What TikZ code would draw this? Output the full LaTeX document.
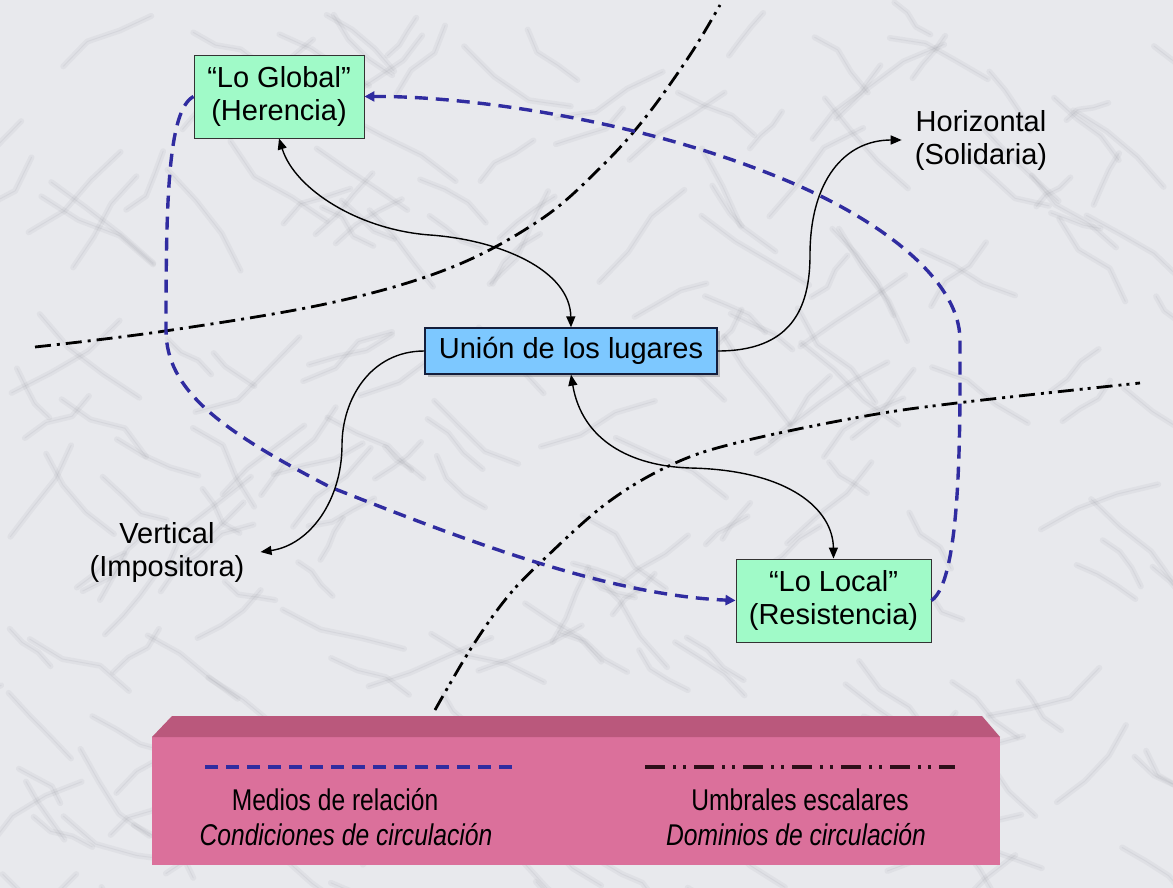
\documentclass[tikz,border=0pt]{standalone}
\usepackage{fontspec}
\setmainfont{Liberation Sans}
\newfontfamily\legendfont[FakeStretch=0.82]{Liberation Sans}
\usetikzlibrary{arrows.meta,shadows}
\definecolor{marble}{RGB}{232,233,237}
\definecolor{vein}{RGB}{140,142,150}
\definecolor{mint}{RGB}{160,250,200}
\definecolor{skyb}{RGB}{125,200,255}
\definecolor{dashblue}{RGB}{48,44,160}
\definecolor{pinkfront}{RGB}{219,112,155}
\definecolor{pinktop}{RGB}{186,88,124}
\definecolor{legdark}{RGB}{45,15,25}
\definecolor{navyedge}{RGB}{20,30,60}
\begin{document}
\begin{tikzpicture}[x=1pt,y=-1pt,
  every node/.style={font=\fontsize{29}{33}\selectfont, align=center},
  greenbox/.style={draw=black!80, line width=0.9pt, fill=mint, inner sep=0pt},
  bluebox/.style={draw=navyedge, line width=1.3pt, fill=skyb, inner sep=0pt,
    minimum width=292pt, minimum height=46pt,
    drop shadow={shadow xshift=3pt, shadow yshift=-3pt, opacity=0.45}},
  labeltext/.style={inner sep=2pt},
  link/.style={line width=1.4pt, black},
  onetip/.style={-{Triangle[length=11pt,width=9pt]}},
  bothtips/.style={{Triangle[length=11pt,width=9pt]}-{Triangle[length=11pt,width=9pt]}},
  medio/.style={dashblue, line width=3.4pt, dash pattern=on 13pt off 8pt,
    -{Triangle[length=10pt,width=10pt]}},
  umbralA/.style={black, line width=2.8pt, dash pattern=on 16pt off 6pt on 3pt off 6pt},
  umbralB/.style={black, line width=2.8pt, dash pattern=on 16pt off 6pt on 3pt off 5pt on 3pt off 6pt},
  legendtext/.style={font=\legendfont\fontsize{30}{33}\selectfont, inner sep=0pt},
  softvein/.style={vein, opacity=0.09, line cap=round, line join=round, line width=6pt},
  thinvein/.style={vein, opacity=0.11, line cap=round, line join=round, line width=1pt}
]
\useasboundingbox (0,0) rectangle (1173,888);
\fill[marble] (0,0) rectangle (1173,888);

% marble texture
\pgfmathsetseed{5}
\foreach \k in {1,...,230}{
  \pgfmathsetmacro{\xa}{rnd*1173}
  \pgfmathsetmacro{\ya}{rnd*888}
  \pgfmathsetmacro{\base}{ifthenelse(rnd<0.6, 25+rnd*25, 125+rnd*30)}
  \pgfmathsetmacro{\aa}{\base+rnd*40-20}
  \pgfmathsetmacro{\ab}{\base+rnd*40-20}
  \pgfmathsetmacro{\ac}{\base+rnd*40-20}
  \pgfmathsetmacro{\ln}{15+rnd*30}
  \draw[softvein] (\xa,\ya) -- ++(\aa:\ln) -- ++(\ab:\ln) -- ++(\ac:\ln);
  \draw[thinvein] (\xa,\ya) -- ++(\aa:\ln) -- ++(\ab:\ln) -- ++(\ac:\ln);
}

% thresholds (dash-dot lines)
\draw[umbralA] plot[smooth, tension=0.6] coordinates {(35,347) (165,331) (330,303) (450,268) (540,220) (600,168) (645,118) (690,55) (720,5)};
\draw[umbralB] plot[smooth, tension=0.6] coordinates {(435,710) (470,650) (505,600) (540,563) (607,503) (673,464) (740,442) (860,417) (957,403) (1140,383)};

% boxes
\node[greenbox, minimum width=170pt, minimum height=83pt] (G) at (279,96.5) {“Lo Global”\\(Herencia)};
\node[bluebox] (U) at (571,351) {Unión de los lugares};
\node[greenbox, minimum width=195pt, minimum height=83pt] (L) at (833.5,600.5) {“Lo Local”\\(Resistencia)};
\node[labeltext] (H) at (981,140) {Horizontal\\(Solidaria)};
\node[labeltext] (V) at (167,552) {Vertical\\(Impositora)};

% relation media (dashed blue)
\draw[medio] (L.east) .. controls (962,580) and (960,420) .. (960,340)
  .. controls (960,280) and (880,215) .. (760,170)
  .. controls (630,120) and (470,96) .. (G.east);
\draw[medio] (G.west) .. controls (168,110) and (166,200) .. (166,330)
  .. controls (166,390) and (220,430) .. (330,487)
  .. controls (440,530) and (600,595) .. (L.west);

% black connectors
\draw[link,bothtips] (G.south) .. controls (295,190) and (360,230) .. (430,235)
  .. controls (500,240) and (570,270) .. (U.north);
\draw[link,onetip] (U.east) .. controls (790,351) and (810,310) .. (810,255)
  .. controls (810,180) and (845,140) .. ([xshift=-11pt]H.west);
\draw[link,onetip] (U.west) .. controls (370,351) and (342,400) .. (342,445)
  .. controls (342,500) and (310,545) .. ([xshift=14pt]V.east);
\draw[link,bothtips] (U.south) .. controls (582,440) and (630,466) .. (690,468)
  .. controls (790,470) and (833,510) .. (L.north);

% legend block
\fill[pinkfront] (152,737) rectangle (1000,865);
\fill[pinktop] (152,737) -- (172,716) -- (982,716) -- (1000,737) -- cycle;
\coordinate (la1) at (205,767);
\coordinate (la2) at (512,767);
\coordinate (lb1) at (645,767);
\coordinate (lb2) at (955,767);
\draw[dashblue, line width=3.8pt, dash pattern=on 13pt off 8pt] (la1) -- (la2);
\draw[legdark, line width=3.8pt, dash pattern=on 20pt off 8pt on 3pt off 7pt on 3pt off 8pt] (lb1) -- (lb2);
\node[legendtext] (m1) at (335,800) {Medios de relación};
\node[legendtext] (m2) at (346,835) {\itshape Condiciones de circulación};
\node[legendtext] (u1) at (800,800) {Umbrales escalares};
\node[legendtext] (u2) at (796,835) {\itshape Dominios de circulación};
\end{tikzpicture}
\end{document}
